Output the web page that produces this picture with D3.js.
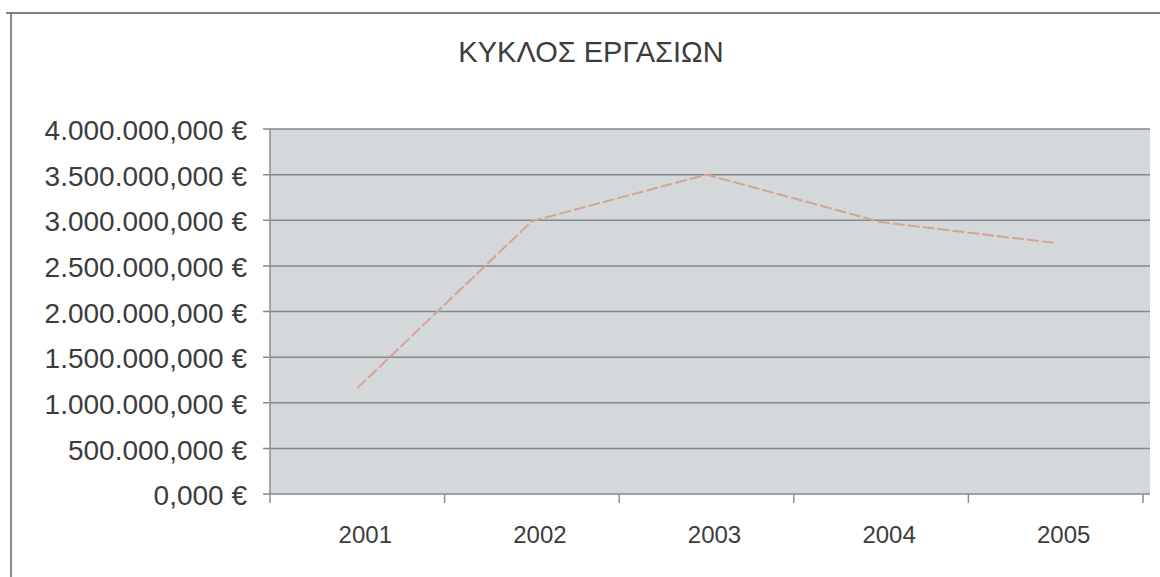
<!DOCTYPE html>
<html>
<head>
<meta charset="utf-8">
<script src="https://cdn.jsdelivr.net/npm/d3@7"></script>
<style>
  html, body { margin: 0; padding: 0; background: #fff; }
  svg { display: block; }
  text { font-family: "Liberation Sans", Arial, sans-serif; fill: #3c3c3c; }
</style>
</head>
<body>
<svg id="chart" width="1160" height="577"></svg>
<script>
const title = "ΚΥΚΛΟΣ ΕΡΓΑΣΙΩΝ";
const years = ["2001", "2002", "2003", "2004", "2005"];
const turnover = [1160000, 2990000, 3500000, 2980000, 2750000];
const yTicks = [0, 500000, 1000000, 1500000, 2000000, 2500000, 3000000, 3500000, 4000000];

const svg = d3.select("#chart");
const plot = { left: 270, right: 1150, top: 129, bottom: 494 };

// outer frame (top and left edges visible)
svg.append("line").attr("x1", 6).attr("x2", 1160).attr("y1", 13).attr("y2", 13)
  .attr("stroke", "#555").attr("stroke-width", 1.5);
svg.append("line").attr("x1", 11).attr("x2", 11).attr("y1", 13).attr("y2", 577)
  .attr("stroke", "#666").attr("stroke-width", 1.5);

svg.append("text").attr("x", 591).attr("y", 62).attr("text-anchor", "middle")
  .style("font-size", "29px").text(title);

const x = d3.scaleBand().domain(years).range([plot.left, plot.left + 5 * 174.6]);
const y = d3.scaleLinear().domain([0, 4000000]).range([plot.bottom, plot.top]);

// plot area background
svg.append("rect").attr("x", plot.left).attr("y", plot.top)
  .attr("width", plot.right - plot.left).attr("height", plot.bottom - plot.top)
  .attr("fill", "#d4d8db");

// gridlines
svg.append("g").selectAll("line").data(yTicks).join("line")
  .attr("x1", plot.left - 7).attr("x2", plot.right)
  .attr("y1", d => y(d)).attr("y2", d => y(d))
  .attr("stroke", "#85898d").attr("stroke-width", 1.5);

// left axis line
svg.append("line").attr("x1", plot.left).attr("x2", plot.left)
  .attr("y1", plot.top).attr("y2", plot.bottom)
  .attr("stroke", "#8a8e92").attr("stroke-width", 1.5);

// y labels: Greek number format, e.g. 4.000.000,000 €
const fmt = v => d3.format(",.3f")(v)
  .replace(/,/g, "#").replace(".", ",").replace(/#/g, ".") + " €";
svg.append("g").selectAll("text").data(yTicks).join("text")
  .attr("x", 247).attr("y", d => y(d)).attr("dy", "0.4em")
  .attr("text-anchor", "end").style("font-size", "28px")
  .text(d => fmt(d));

// x axis ticks at category boundaries
const bounds = years.map(d => x(d)).concat([x(years[years.length - 1]) + x.bandwidth()]);
svg.append("g").selectAll("line").data(bounds).join("line")
  .attr("x1", d => d).attr("x2", d => d)
  .attr("y1", plot.bottom).attr("y2", plot.bottom + 9)
  .attr("stroke", "#8a8e92").attr("stroke-width", 1.5);

svg.append("g").selectAll("text").data(years).join("text")
  .attr("x", d => x(d) + x.bandwidth() / 2 + 8).attr("y", 543)
  .attr("text-anchor", "middle").style("font-size", "24px")
  .text(d => d);

// line
const line = d3.line()
  .x((d, i) => x(years[i]) + x.bandwidth() / 2)
  .y(d => y(d));
svg.append("path").datum(turnover).attr("d", line)
  .attr("fill", "none").attr("stroke", "#d5a392").attr("stroke-width", 2)
  .attr("stroke-dasharray", "12,3");
</script>
</body>
</html>
